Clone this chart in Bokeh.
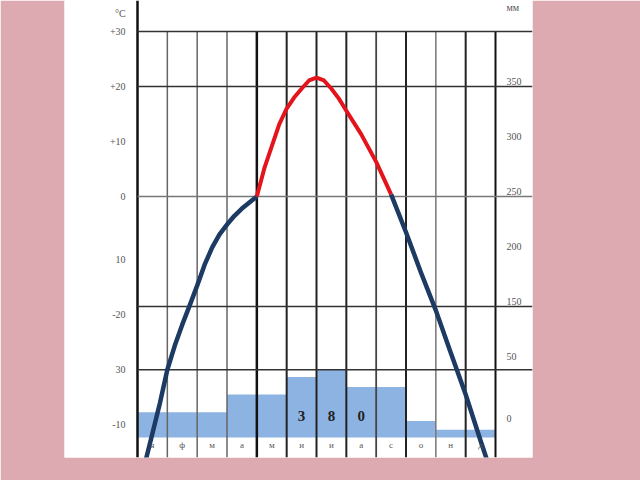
from bokeh.plotting import figure
from bokeh.models import Range1d
from bokeh.core.properties import value
from bokeh.embed import file_html
from bokeh.resources import INLINE

# ---------------- data ----------------
months = ["я", "ф", "м", "а", "м", "и", "и", "а", "с", "о", "н", "д"]
precip_mm = [23, 23, 23, 39, 39, 55, 62, 46, 46, 15, 7, 7]
total_precip_label = "380"

# temperature curve (x in months from start of Jan)
temp_month_pos = [0.25, 0.5, 0.75, 1.0, 1.25, 1.5, 1.75, 2.0, 2.25, 2.5, 2.75,
                  3.0, 3.25, 3.5, 3.75, 4.0, 4.25, 4.5, 4.75, 5.0, 5.25, 5.5,
                  5.75, 6.0, 6.25, 6.5, 6.75, 7.0, 7.5, 8.0, 8.5, 9.0, 9.5,
                  10.0, 10.5, 11.0, 11.5, 11.8]
temp_c = [-48.5, -43.1, -37.6, -31.5, -27.1, -23.3, -19.8, -16.2, -12.4, -9.3,
          -6.9, -5.1, -3.5, -2.2, -1.1, 0.0, 5.1, 9.1, 13.1, 16.0, 18.0, 19.6,
          21.1, 21.6, 21.1, 19.6, 17.8, 15.6, 11.3, 6.3, 0.4, -6.5, -13.8,
          -20.7, -28.4, -36.0, -44.4, -49.3]

left_tick_temps = [33.3, 30, 20, 10, 0, -11.5, -21.5, -31.5, -41.5]
left_tick_labels = ["°C", "+30", "+20", "+10", "0", "10", "-20", "30", "-10"]
right_tick_mm = [391, 324, 274, 224, 174, 124, 74, 17]
right_tick_labels = ["мм", "350", "300", "250", "200", "150", "50", "0"]
grid_temps = [30, 20, 0, -20, -31.5]

# ---------------- figure ----------------
X0, X1 = -2.447, 13.24
T0, T1 = -47.45, 35.64
MM0, MM1 = -18.18, 397.3

p = figure(width=640, height=480, x_range=Range1d(X0, X1), y_range=Range1d(T0, T1),
           output_backend="svg", toolbar_location=None,
           x_axis_location=None, y_axis_location=None,
           min_border_left=64, min_border_right=108, min_border_top=0,
           min_border_bottom=23, background_fill_color="white",
           border_fill_color="#dcaab0", outline_line_color=None)
p.grid.visible = False
p.extra_y_ranges = {"mm": Range1d(MM0, MM1)}

n = len(months)
# precipitation bars
p.quad(left=list(range(n)), right=[i + 1 for i in range(n)], bottom=0, top=precip_mm,
       y_range_name="mm", fill_color="#8db3e2", line_color=None)

# vertical grid lines at month boundaries
v_colors = ["#111", "#666", "#666", "#666", "#111", "#222", "#222", "#222",
            "#444", "#222", "#777", "#222", "#111"]
v_widths = [2.5, 1.5, 1.5, 1.5, 2.5, 2, 2, 2, 1.8, 2, 1.5, 2, 2]
for b in range(n + 1):
    top = T1 if b == 0 else grid_temps[0]
    p.segment(x0=[b], y0=[top], x1=[b], y1=[T0], line_color=v_colors[b],
              line_width=v_widths[b])

# horizontal grid lines
for t in grid_temps:
    p.segment(x0=[0], y0=[t], x1=[X1], y1=[t],
              line_color="#777" if t == 0 else "#333", line_width=1.6)

# temperature curve, red above zero, navy below
runs = []
cur = None
for i in range(len(temp_c) - 1):
    warm = min(temp_c[i], temp_c[i + 1]) >= 0
    if cur is None or cur[0] != warm:
        cur = [warm, [temp_month_pos[i]], [temp_c[i]]]
        runs.append(cur)
    cur[1].append(temp_month_pos[i + 1])
    cur[2].append(temp_c[i + 1])
for warm, xs, ys in runs:
    if warm:
        p.line(xs, ys, line_color="#e3141b", line_width=4, line_join="round")
    else:
        p.line(xs, ys, line_color="#1c3a62", line_width=4.5, line_join="round")

font = value("Liberation Serif")
# left labels
p.text(x=[-0.4] * len(left_tick_temps), y=left_tick_temps, text=left_tick_labels,
       text_font=font, text_font_size="10px", text_align="right",
       text_baseline="middle", text_color="#555")
# right labels
p.text(x=[12.37] * len(right_tick_mm), y=right_tick_mm, text=right_tick_labels,
       y_range_name="mm", text_font=font, text_font_size="10px",
       text_align="left", text_baseline="middle", text_color="#555")
# month labels
p.text(x=[i + 0.5 for i in range(n)], y=[-6.4] * n, text=months, y_range_name="mm",
       text_font=font, text_font_size="9px", text_align="center",
       text_baseline="middle", text_color="#555")
# annual total precipitation, spread over Jun-Aug columns
digits = list(total_precip_label)
p.text(x=[5 + k + 0.5 for k in range(len(digits))], y=[20] * len(digits), text=digits,
       y_range_name="mm", text_font=font, text_font_size="15px",
       text_font_style="bold", text_align="center", text_baseline="middle",
       text_color="#222")

open("out.html", "w").write(file_html(p, INLINE))
